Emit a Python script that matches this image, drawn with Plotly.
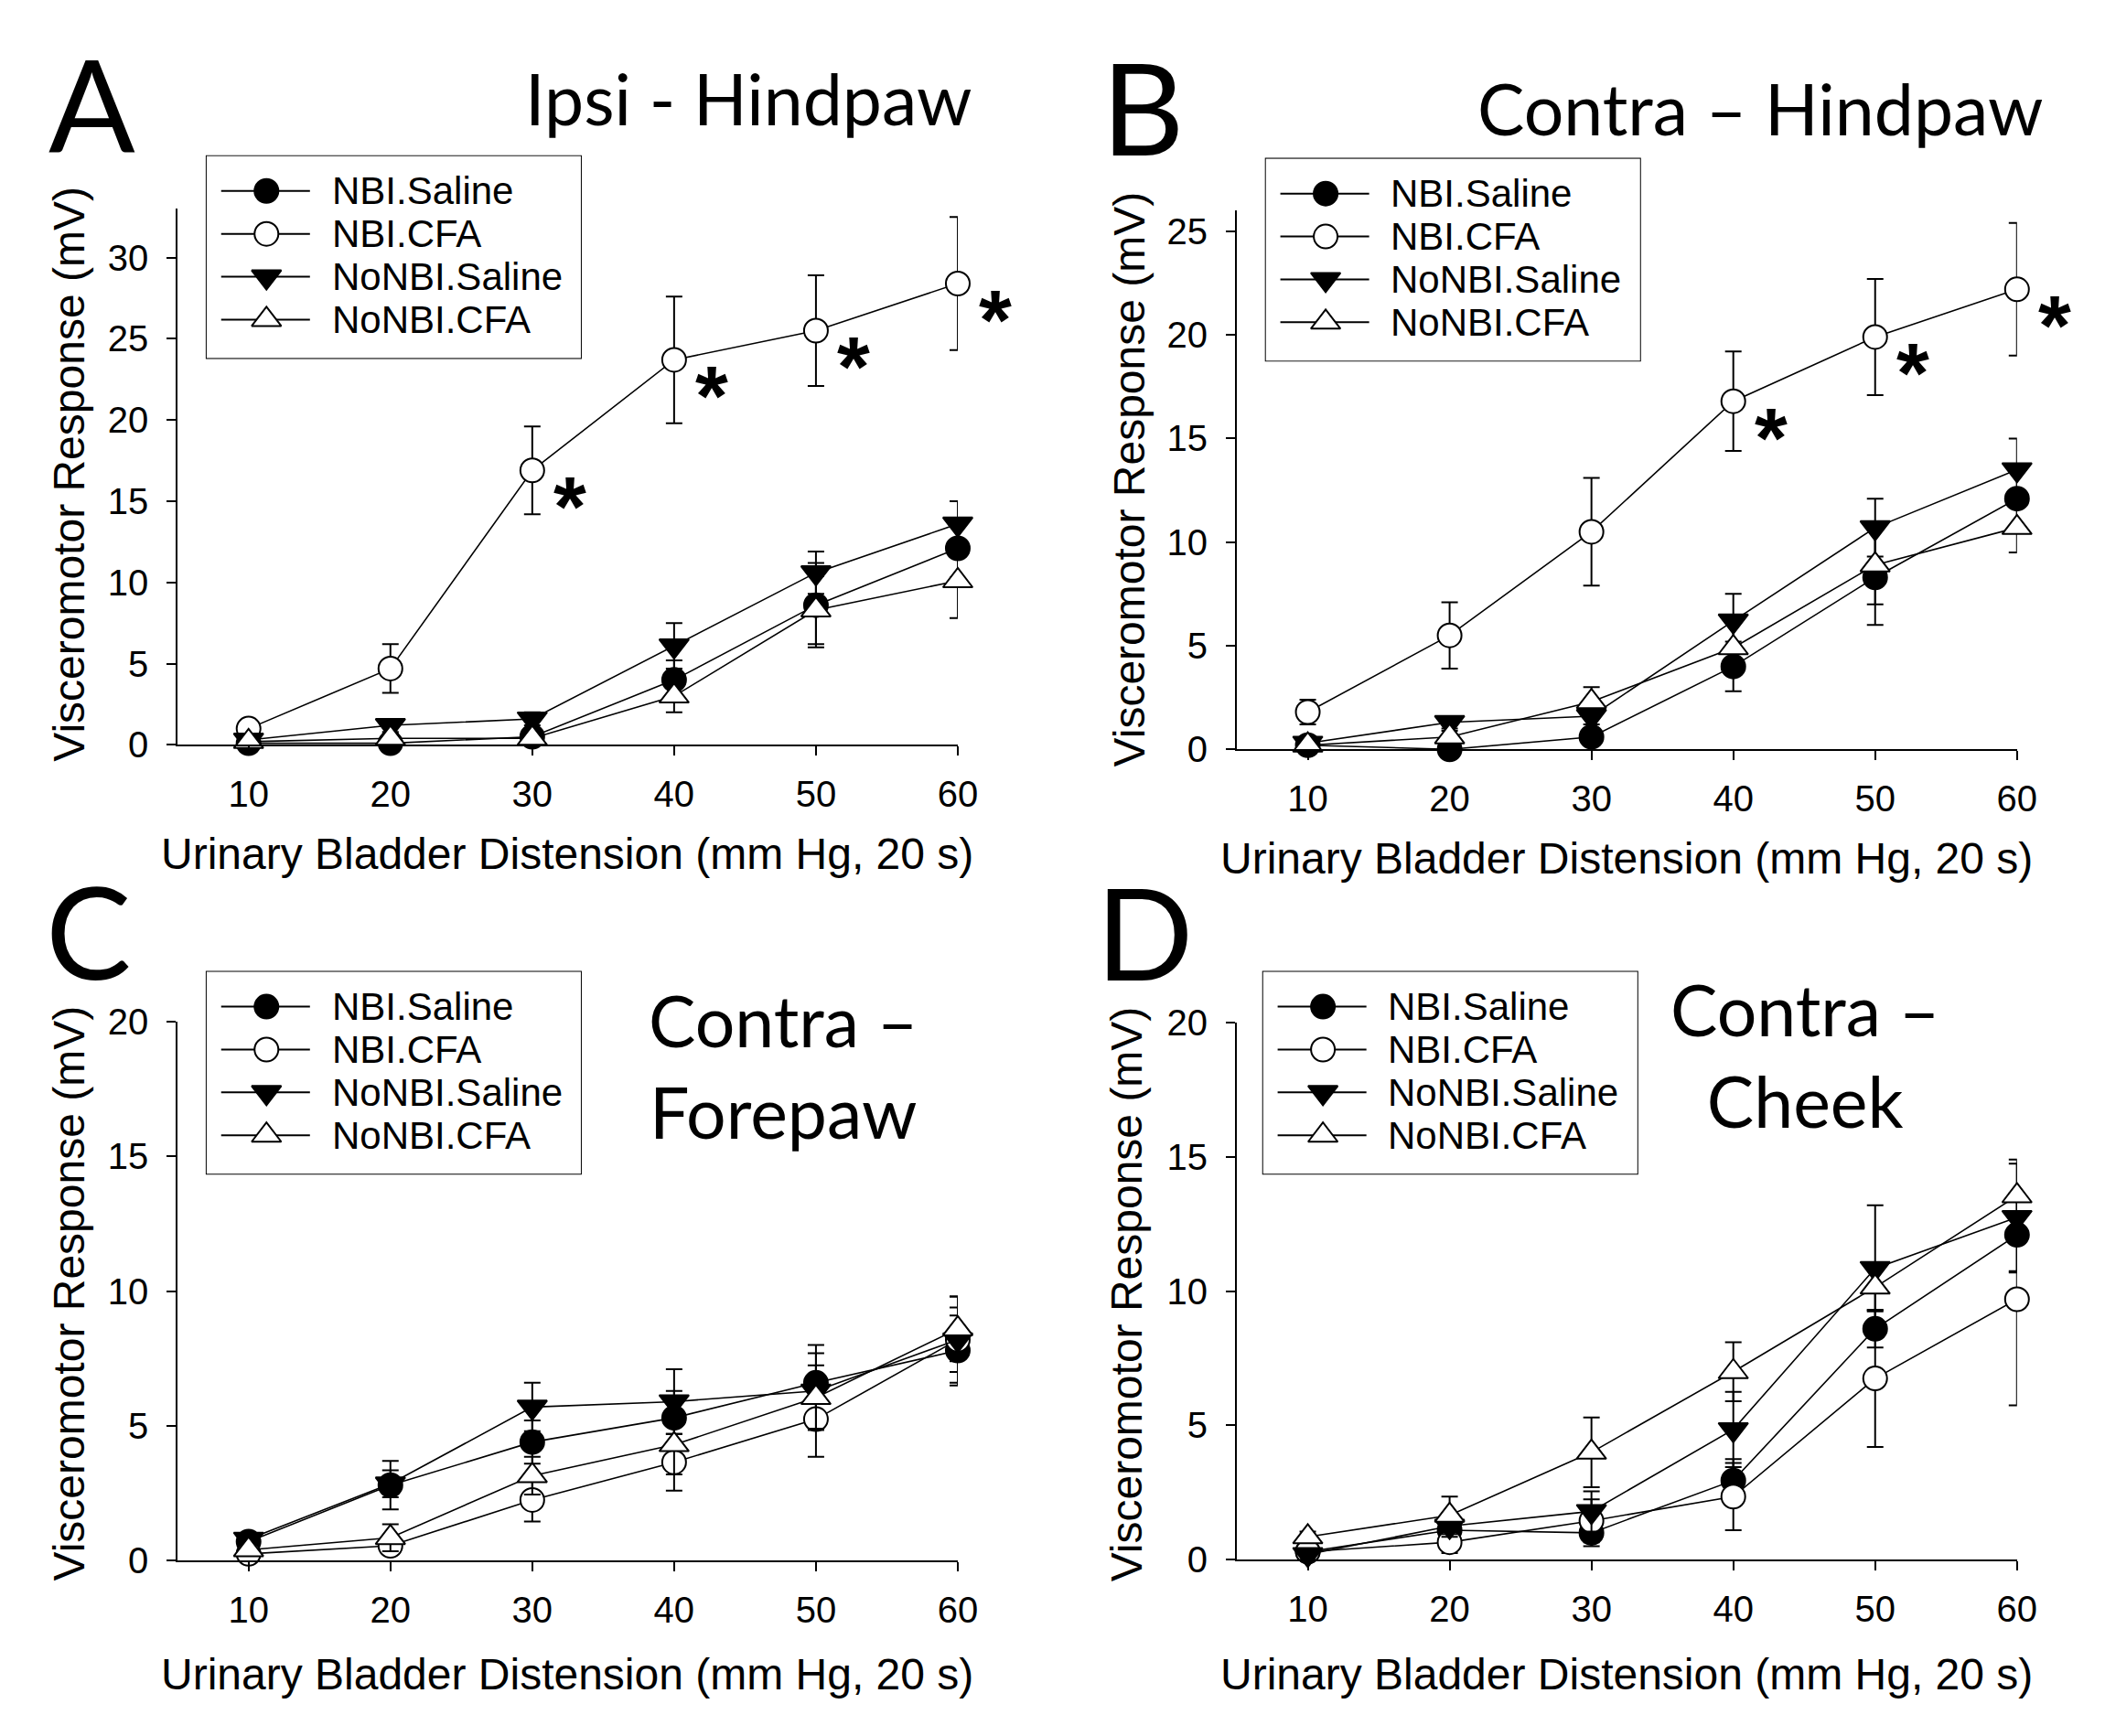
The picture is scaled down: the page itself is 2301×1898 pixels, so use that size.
import plotly.graph_objects as go

# ---------------- data ----------------
x_mmhg = [10, 20, 30, 40, 50, 60]
series_names = ["NBI.Saline", "NBI.CFA", "NoNBI.Saline", "NoNBI.CFA"]

# Panel A: Ipsi - Hindpaw
a_nbi_saline = [0.1, 0.1, 0.5, 4.0, 8.6, 12.1]
a_nbi_saline_err = [0.2, 0.2, 0.3, 1.2, 2.6, 1.8]
a_nbi_cfa = [1.0, 4.7, 16.9, 23.7, 25.5, 28.4]
a_nbi_cfa_err = [0.3, 1.5, 2.7, 3.9, 3.4, 4.1]
a_nonbi_saline = [0.3, 1.2, 1.6, 6.1, 10.6, 13.6]
a_nonbi_saline_err = [0.2, 0.4, 0.4, 1.4, 1.3, 1.4]
a_nonbi_cfa = [0.2, 0.4, 0.4, 3.0, 8.3, 10.1]
a_nonbi_cfa_err = [0.2, 0.3, 0.3, 1.0, 2.1, 2.3]
a_sig_x = [30, 40, 50, 60]

# Panel B: Contra - Hindpaw
b_nbi_saline = [0.2, 0.0, 0.6, 4.0, 8.3, 12.1]
b_nbi_saline_err = [0.2, 0.2, 0.4, 1.2, 2.3, 1.4]
b_nbi_cfa = [1.8, 5.5, 10.5, 16.8, 19.9, 22.2]
b_nbi_cfa_err = [0.6, 1.6, 2.6, 2.4, 2.8, 3.2]
b_nonbi_saline = [0.3, 1.3, 1.6, 6.2, 10.7, 13.5]
b_nonbi_saline_err = [0.2, 0.3, 0.4, 1.3, 1.4, 1.5]
b_nonbi_cfa = [0.2, 0.6, 2.3, 4.9, 8.9, 10.7]
b_nonbi_cfa_err = [0.2, 0.3, 0.7, 1.2, 1.9, 1.2]
b_sig_x = [40, 50, 60]

# Panel C: Contra - Forepaw
c_nbi_saline = [0.7, 2.8, 4.4, 5.3, 6.6, 7.8]
c_nbi_saline_err = [0.2, 0.9, 0.8, 1.0, 1.4, 1.3]
c_nbi_cfa = [0.25, 0.55, 2.25, 3.65, 5.25, 8.2]
c_nbi_cfa_err = [0.2, 0.3, 0.8, 1.05, 1.4, 1.2]
c_nonbi_saline = [0.8, 2.85, 5.7, 5.9, 6.3, 8.2]
c_nonbi_saline_err = [0.2, 0.5, 0.9, 1.2, 1.4, 1.6]
c_nonbi_cfa = [0.4, 0.85, 3.15, 4.3, 6.05, 8.6]
c_nonbi_cfa_err = [0.2, 0.5, 0.7, 1.1, 1.2, 1.2]
c_sig_x = []

# Panel D: Contra - Cheek
d_nbi_saline = [0.3, 1.1, 1.0, 2.95, 8.6, 12.1]
d_nbi_saline_err = [0.2, 0.3, 0.5, 0.8, 0.7, 1.4]
d_nbi_cfa = [0.3, 0.65, 1.45, 2.35, 6.75, 9.7]
d_nbi_cfa_err = [0.2, 0.4, 0.8, 1.25, 2.55, 3.95]
d_nonbi_saline = [0.2, 1.25, 1.8, 4.85, 10.85, 12.75]
d_nonbi_saline_err = [0.2, 0.4, 0.75, 1.4, 2.35, 2.0]
d_nonbi_cfa = [0.85, 1.65, 4.0, 7.0, 10.15, 13.55]
d_nonbi_cfa_err = [0.2, 0.7, 1.3, 1.1, 0.9, 1.35]
d_sig_x = []

x_tick_vals = [10, 20, 30, 40, 50, 60]
x_title = "Urinary Bladder Distension (mm Hg, 20 s)"
y_title = "Visceromotor Response (mV)"

# ---------------- layout helpers ----------------
W, H = 2301, 1898
def fx(p):
    return p / W
def fy(p):
    return 1 - p / H

styles = [
    dict(symbol="circle", color="black", size=26),
    dict(symbol="circle", color="white", size=26),
    dict(symbol="triangle-down", color="black", size=28),
    dict(symbol="triangle-up", color="white", size=28),
]

panels = [
    dict(letter="A", title="Ipsi - Hindpaw",
         series=[(a_nbi_saline, a_nbi_saline_err), (a_nbi_cfa, a_nbi_cfa_err),
                 (a_nonbi_saline, a_nonbi_saline_err), (a_nonbi_cfa, a_nonbi_cfa_err)],
         sig=a_sig_x, yrange=[0, 33], yticks=[0, 5, 10, 15, 20, 25, 30],
         xpx=(188, 1049), ypx=(803, 203),
         letter_pos=(93, 84), title_pos=(1066, 79), title_anchor="right",
         xt_pos=(618, 925), yt_pos=(68, 500), legend=(220, 144)),
    dict(letter="B", title="Contra \u2013 Hindpaw",
         series=[(b_nbi_saline, b_nbi_saline_err), (b_nbi_cfa, b_nbi_cfa_err),
                 (b_nonbi_saline, b_nonbi_saline_err), (b_nonbi_cfa, b_nonbi_cfa_err)],
         sig=b_sig_x, yrange=[0, 26], yticks=[0, 5, 10, 15, 20, 25],
         xpx=(1357, 2218), ypx=(808, 205),
         letter_pos=(1253, 88), title_pos=(2250, 90), title_anchor="right",
         xt_pos=(1787, 930), yt_pos=(1238, 506), legend=(1389, 147)),
    dict(letter="C", title="Contra \u2013<br>Forepaw",
         series=[(c_nbi_saline, c_nbi_saline_err), (c_nbi_cfa, c_nbi_cfa_err),
                 (c_nonbi_saline, c_nonbi_saline_err), (c_nonbi_cfa, c_nonbi_cfa_err)],
         sig=c_sig_x, yrange=[0, 20], yticks=[0, 5, 10, 15, 20],
         xpx=(188, 1049), ypx=(1716, 1113),
         letter_pos=(90, 1010), title_pos=(856, 1162), title_anchor="center",
         xt_pos=(618, 1843), yt_pos=(68, 1417), legend=(220, 1057)),
    dict(letter="D", title="Contra \u2013<br>Cheek",
         series=[(d_nbi_saline, d_nbi_saline_err), (d_nbi_cfa, d_nbi_cfa_err),
                 (d_nonbi_saline, d_nonbi_saline_err), (d_nonbi_cfa, d_nonbi_cfa_err)],
         sig=d_sig_x, yrange=[0, 20], yticks=[0, 5, 10, 15, 20],
         xpx=(1357, 2218), ypx=(1715, 1114),
         letter_pos=(1255, 1011), title_pos=(1984, 1150), title_anchor="center",
         xt_pos=(1787, 1843), yt_pos=(1235, 1418), legend=(1386, 1057)),
]

TICK_FONT = dict(family="Liberation Sans, Arial", size=40, color="black")
AX_FONT = dict(family="Liberation Sans, Arial", size=48, color="black")
LEG_FONT = dict(family="Liberation Sans, Arial", size=42, color="black")
BIG_FONT = dict(family="Lato, Open Sans", size=140, color="black")
TITLE_FONT = dict(family="Lato, Open Sans", size=77, color="black")

LEG_W, LEG_H = 413, 226
LEG_ROWS = [39, 87, 135, 183]

fig = go.Figure()
annotations = []
shapes = []
layout_axes = {}

for i, p in enumerate(panels):
    n = i + 1
    xa = "x" if n == 1 else f"x{n}"
    ya = "y" if n == 1 else f"y{n}"
    xkey = "xaxis" if n == 1 else f"xaxis{n}"
    ykey = "yaxis" if n == 1 else f"yaxis{n}"

    layout_axes[xkey] = dict(
        domain=[fx(p["xpx"][0]), fx(p["xpx"][1])], range=[5, 60], anchor=ya,
        tickvals=x_tick_vals, ticks="outside", ticklen=10, tickwidth=2, tickcolor="black",
        showline=True, linecolor="black", linewidth=2, showgrid=False, zeroline=False,
        tickfont=TICK_FONT, ticklabelstandoff=8,
    )
    layout_axes[ykey] = dict(
        domain=[fy(p["ypx"][0]), fy(p["ypx"][1])], range=p["yrange"], anchor=xa,
        tickvals=p["yticks"], ticks="outside", ticklen=10, tickwidth=2, tickcolor="black",
        showline=True, linecolor="black", linewidth=2, showgrid=False, zeroline=False,
        tickfont=TICK_FONT, ticklabelstandoff=12,
    )

    for (vals, errs), st, name in zip(p["series"], styles, series_names):
        fig.add_trace(go.Scatter(
            x=x_mmhg, y=vals, name=name, mode="lines+markers",
            error_y=dict(type="data", array=errs, visible=True, color="black", thickness=2, width=9),
            line=dict(color="black", width=1.6),
            marker=dict(symbol=st["symbol"], size=st["size"], color=st["color"],
                        line=dict(color="black", width=2)),
            xaxis=xa, yaxis=ya, showlegend=False, cliponaxis=False,
        ))

    # significance asterisks beside the NBI.CFA points
    cfa_vals = p["series"][1][0]
    for sx in p["sig"]:
        sy = cfa_vals[x_mmhg.index(sx)]
        annotations.append(dict(
            x=sx, y=sy, xref=xa, yref=ya, text="<b>*</b>", showarrow=False,
            xanchor="center", yanchor="middle", xshift=41, yshift=-40,
            font=dict(family="Liberation Sans, Arial", size=92, color="black"),
        ))

    annotations.append(dict(
        x=fx(p["letter_pos"][0]), y=fy(p["letter_pos"][1]), xref="paper", yref="paper",
        text=p["letter"], showarrow=False, xanchor="center", yanchor="middle", font=BIG_FONT,
    ))
    annotations.append(dict(
        x=fx(p["title_pos"][0]), y=fy(p["title_pos"][1]), xref="paper", yref="paper",
        text=p["title"], showarrow=False, xanchor=p["title_anchor"], yanchor="middle",
        align="center", font=TITLE_FONT,
    ))
    annotations.append(dict(
        x=fx(p["xt_pos"][0]), y=fy(p["xt_pos"][1]), xref="paper", yref="paper",
        text=x_title, showarrow=False, xanchor="center", yanchor="middle", font=AX_FONT,
    ))
    annotations.append(dict(
        x=fx(p["yt_pos"][0]), y=fy(p["yt_pos"][1]), xref="paper", yref="paper",
        text=y_title, showarrow=False, xanchor="center", yanchor="middle",
        textangle=-90, font=AX_FONT,
    ))

    # legend box drawn on its own hidden axes (pixel units inside the box)
    ln = n + 4
    lxa, lya = f"x{ln}", f"y{ln}"
    lx0, ly0 = p["legend"]
    layout_axes[f"xaxis{ln}"] = dict(
        domain=[fx(lx0), fx(lx0 + LEG_W)], range=[0, LEG_W], anchor=lya, visible=False, fixedrange=True)
    layout_axes[f"yaxis{ln}"] = dict(
        domain=[fy(ly0 + LEG_H), fy(ly0)], range=[LEG_H, 0], anchor=lxa, visible=False, fixedrange=True)
    shapes.append(dict(type="rect", xref=f"{lxa} domain", yref=f"{lya} domain",
                       x0=0, x1=1, y0=0, y1=1, line=dict(color="black", width=2),
                       fillcolor="white", layer="below"))
    for ry, st, name in zip(LEG_ROWS, styles, series_names):
        fig.add_trace(go.Scatter(
            x=[16, 114], y=[ry, ry], mode="lines", line=dict(color="black", width=2),
            xaxis=lxa, yaxis=lya, showlegend=False, hoverinfo="skip"))
        fig.add_trace(go.Scatter(
            x=[66], y=[ry], mode="markers",
            marker=dict(symbol=st["symbol"], size=st["size"], color=st["color"],
                        line=dict(color="black", width=2)),
            xaxis=lxa, yaxis=lya, showlegend=False, hoverinfo="skip", cliponaxis=False))
        annotations.append(dict(
            x=136, y=ry, xref=lxa, yref=lya, text=name, showarrow=False,
            xanchor="left", yanchor="middle", font=LEG_FONT))

fig.update_layout(
    width=W, height=H, autosize=False,
    margin=dict(l=0, r=0, t=0, b=0),
    paper_bgcolor="white", plot_bgcolor="white",
    showlegend=False,
    annotations=annotations, shapes=shapes,
    **layout_axes,
)

fig.write_html("out.html")
